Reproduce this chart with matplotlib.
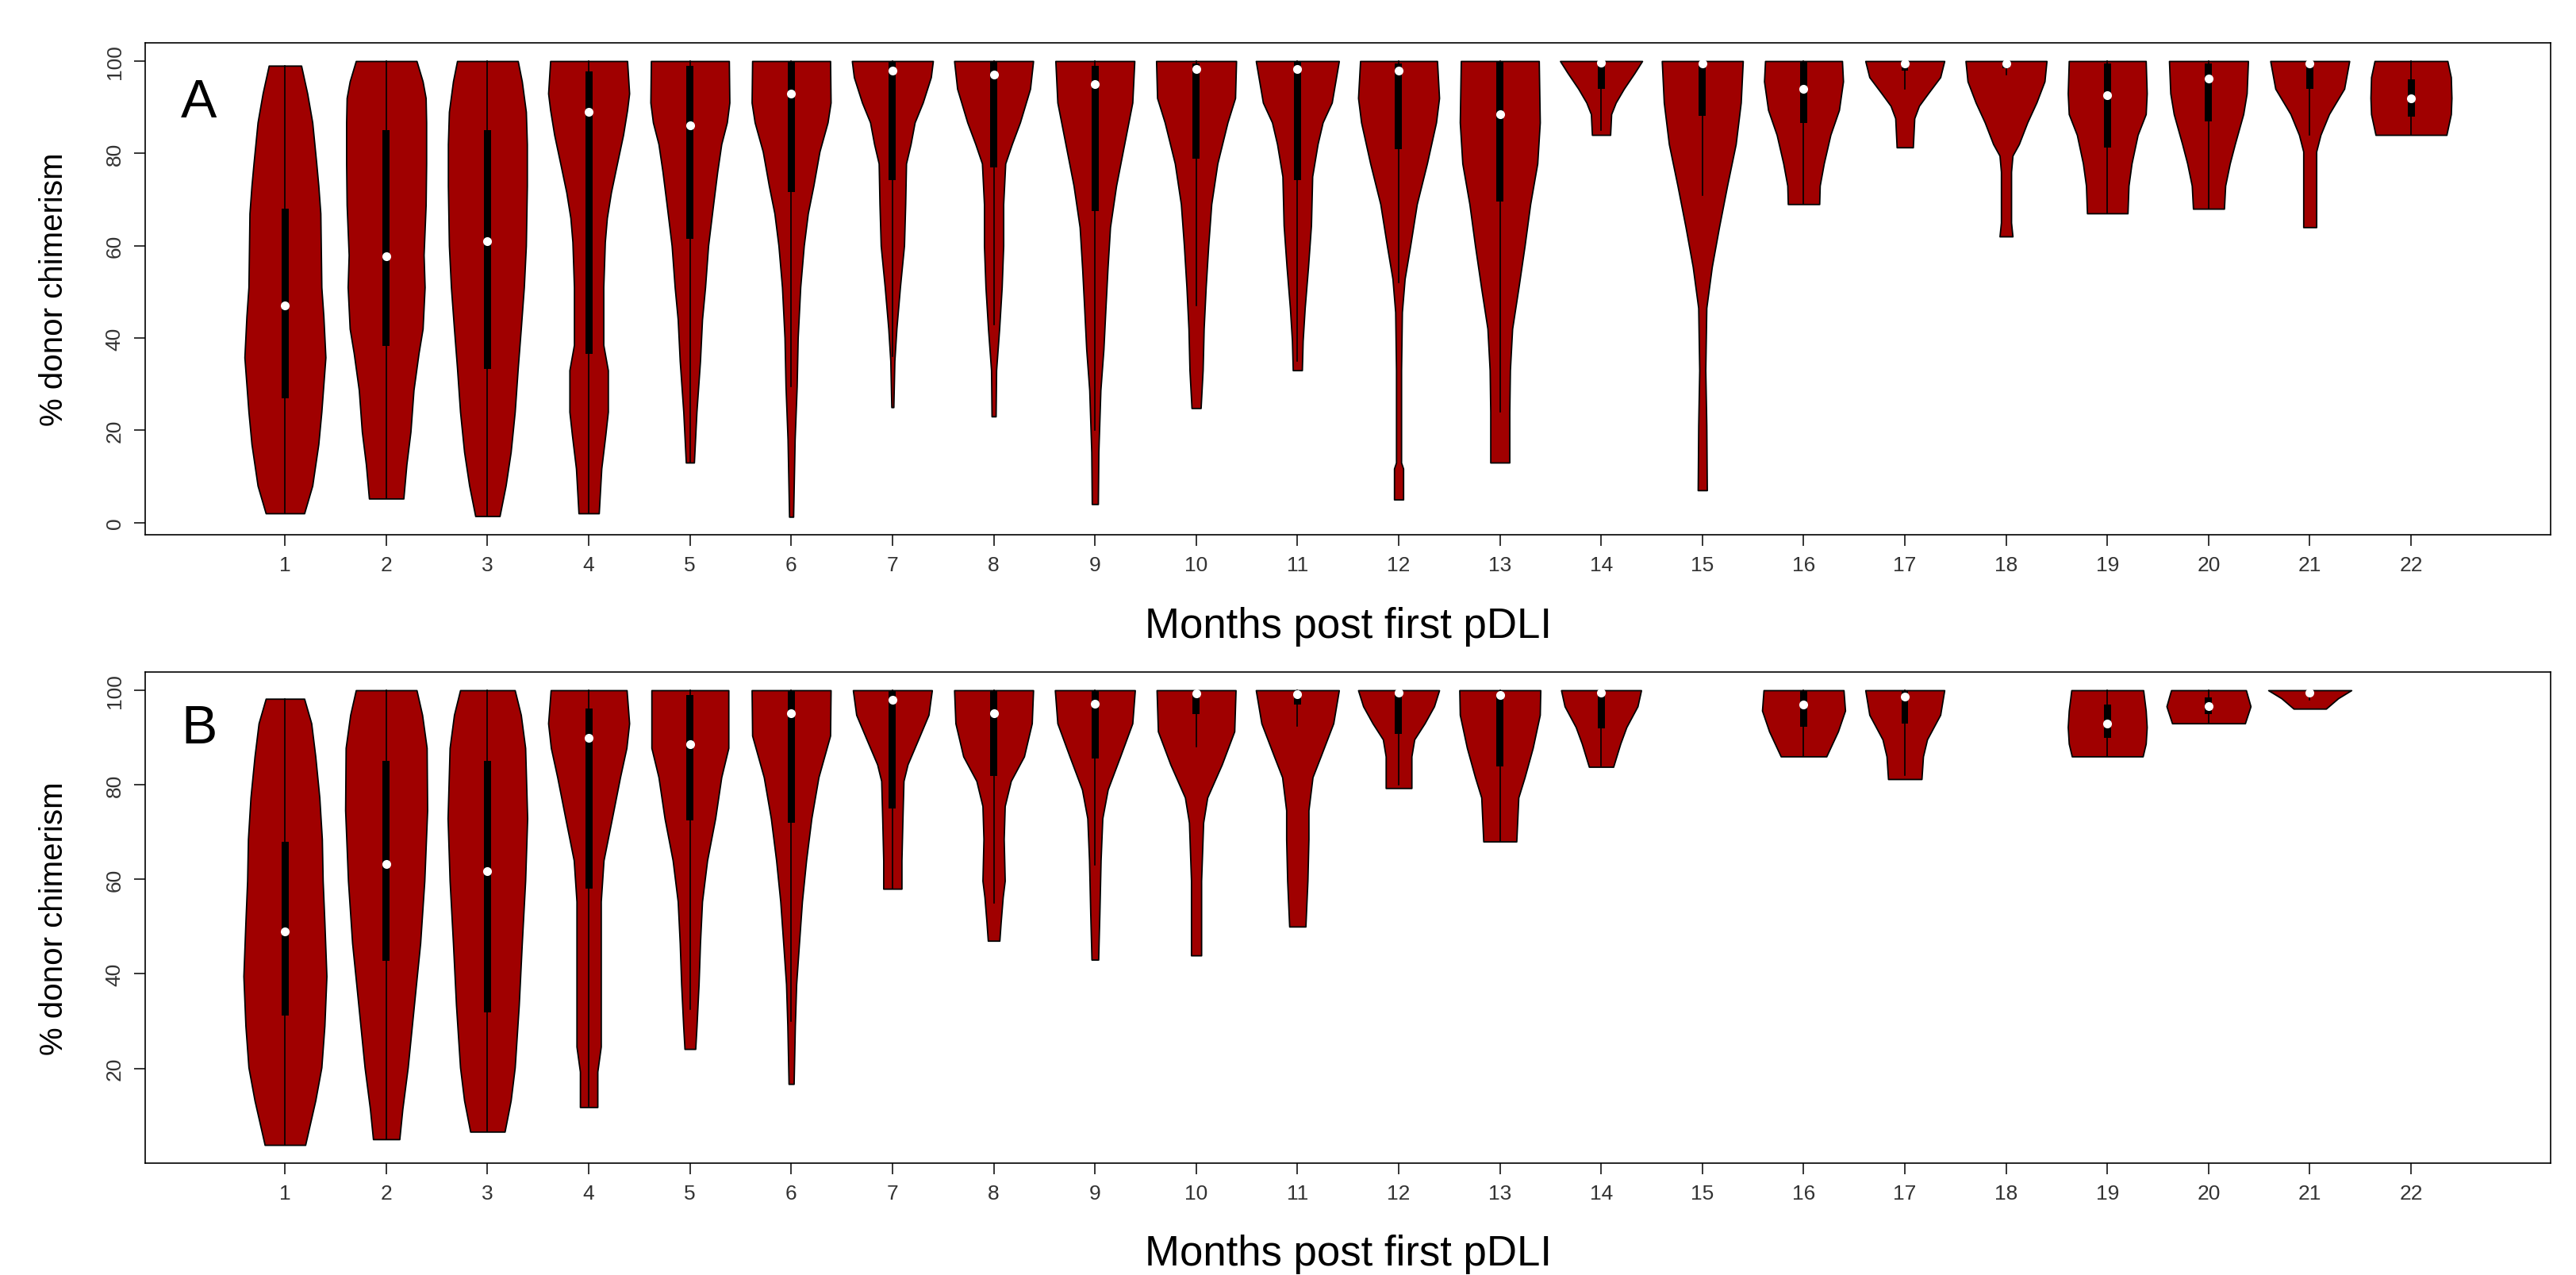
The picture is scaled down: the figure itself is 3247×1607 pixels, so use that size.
import numpy as np
import matplotlib.pyplot as plt
from matplotlib.patches import Rectangle

plt.rcParams['font.family'] = ['Liberation Sans', 'DejaVu Sans']

# ---- panel A: months 1-22 ----
months_A = list(range(1, 23))
# violin outline: y levels (bottom -> top) and half widths
shape_y_A = [
    [2, 8, 17, 24, 35.8, 44.7, 51, 67, 73, 77.8, 86.7, 93, 99],
    [5.2, 12.6, 19.7, 28.7, 36.7, 42, 51, 58, 68.8, 77.8, 86.7, 92, 95.6, 100],
    [1.4, 8, 15.3, 24, 33.5, 42, 51, 60, 73, 82, 89, 95.6, 100],
    [2, 11.7, 19, 24, 33, 38.5, 51, 60.8, 66, 71.5, 77.8, 84, 89.4, 93, 100],
    [13, 24, 35, 44, 51, 60, 69, 76, 82, 86.7, 91, 100],
    [1.25, 18, 29.5, 40, 51, 60, 67, 73, 80.4, 86.7, 91, 100],
    [25, 35, 42, 51, 60, 69, 77.8, 82, 86.7, 91, 96.5, 100],
    [23, 33, 42, 51, 60, 69, 77.8, 82, 86.7, 94, 100],
    [4, 15.3, 28.7, 37.6, 46.5, 55, 64, 73, 82, 91, 100],
    [24.8, 33, 42, 51, 60, 69, 77.8, 86.7, 92, 100],
    [33, 39.4, 46.5, 55.4, 64.4, 75, 82, 86.7, 91, 100],
    [5, 11.7, 13, 24, 33, 45.6, 52.8, 60, 69, 77.8, 86.7, 92, 100],
    [13, 24, 33, 42, 51, 60, 69, 77.8, 86.7, 100],
    [84, 88.5, 91, 94, 97.4, 100],
    [7, 21, 33, 46.5, 55.4, 64, 73, 82, 91, 100],
    [69, 73, 77.8, 84, 89.4, 95.6, 100],
    [81.3, 87.6, 90.3, 93, 96.5, 100],
    [62, 65, 76, 79.5, 82, 86.7, 91, 95.6, 100],
    [67, 73, 77.8, 84, 88.5, 93, 100],
    [68, 73, 77.8, 82, 88.5, 93, 100],
    [64, 73, 80.4, 84, 88.5, 94, 100],
    [84, 88.5, 92, 96.5, 100],
]
shape_w_A = [
    [0.19, 0.27, 0.33, 0.36, 0.40, 0.38, 0.36, 0.35, 0.33, 0.31, 0.27, 0.22, 0.16],
    [0.17, 0.20, 0.24, 0.27, 0.32, 0.36, 0.38, 0.37, 0.39, 0.395, 0.395, 0.39, 0.36, 0.30],
    [0.12, 0.18, 0.23, 0.27, 0.30, 0.33, 0.36, 0.38, 0.39, 0.39, 0.38, 0.34, 0.30],
    [0.10, 0.125, 0.165, 0.19, 0.19, 0.145, 0.145, 0.16, 0.18, 0.22, 0.28, 0.34, 0.38, 0.40, 0.38],
    [0.04, 0.065, 0.10, 0.12, 0.15, 0.18, 0.23, 0.27, 0.31, 0.365, 0.39, 0.385],
    [0.02, 0.035, 0.055, 0.065, 0.09, 0.125, 0.165, 0.22, 0.28, 0.36, 0.39, 0.385],
    [0.01, 0.02, 0.04, 0.075, 0.115, 0.127, 0.135, 0.18, 0.22, 0.30, 0.38, 0.40],
    [0.02, 0.025, 0.055, 0.08, 0.095, 0.095, 0.115, 0.18, 0.26, 0.36, 0.39],
    [0.03, 0.035, 0.055, 0.085, 0.105, 0.125, 0.15, 0.21, 0.29, 0.37, 0.39],
    [0.045, 0.065, 0.075, 0.095, 0.12, 0.15, 0.21, 0.31, 0.385, 0.395],
    [0.045, 0.053, 0.073, 0.106, 0.135, 0.147, 0.20, 0.25, 0.34, 0.41],
    [0.045, 0.045, 0.025, 0.025, 0.025, 0.033, 0.06, 0.115, 0.18, 0.28, 0.37, 0.40, 0.38],
    [0.094, 0.094, 0.10, 0.122, 0.185, 0.245, 0.30, 0.37, 0.395, 0.385],
    [0.09, 0.10, 0.145, 0.225, 0.33, 0.405],
    [0.045, 0.04, 0.03, 0.04, 0.094, 0.165, 0.245, 0.33, 0.38, 0.40],
    [0.155, 0.16, 0.20, 0.265, 0.35, 0.39, 0.38],
    [0.08, 0.094, 0.14, 0.23, 0.35, 0.39],
    [0.064, 0.05, 0.05, 0.064, 0.127, 0.21, 0.30, 0.38, 0.40],
    [0.20, 0.21, 0.24, 0.30, 0.38, 0.39, 0.38],
    [0.153, 0.165, 0.21, 0.26, 0.343, 0.377, 0.39],
    [0.064, 0.064, 0.064, 0.106, 0.19, 0.34, 0.39],
    [0.35, 0.394, 0.40, 0.394, 0.36],
]
median_A = [47, 57.7, 61, 89, 86, 93, 98, 97, 95, 98.3, 98.3, 98, 88.5, 99.6, 99.5, 94, 99.5, 99.5, 92.6, 96.2, 99.5, 92]
q1_A = [27, 38.2, 33.3, 36.5, 61.5, 71.7, 74.2, 77, 67.5, 78.8, 74.2, 80.9, 69.6, 94, 88.2, 86.6, 98, 98.5, 81.2, 87, 94, 88]
q3_A = [68, 85, 85, 97.7, 99, 100, 100, 100, 99, 99.5, 100, 99.5, 100, 99.5, 99, 100, 99.5, 99.8, 99.4, 99.4, 99, 96]
wlo_A = [2, 5.2, 1.4, 2, 13, 29.5, 36, 43, 20, 47, 35, 52, 24, 85, 71, 69, 94, 97, 67, 68, 84, 84]
whi_A = [99, 100, 100, 100, 100, 100, 100, 100, 100, 100, 100, 100, 100, 100, 100, 100, 100, 100, 100, 100, 100, 100]

# ---- panel B: months with data ----
months_B = [1, 2, 3, 4, 5, 6, 7, 8, 9, 10, 11, 12, 13, 14, 16, 17, 19, 20, 21]
shape_y_B = [
    [3.8, 13.2, 20.2, 29, 39.5, 50.9, 59.7, 68.5, 77.3, 86, 93, 98.2],
    [5, 11.4, 20.2, 29, 37.8, 46.5, 59.7, 74.6, 87.8, 94.8, 100],
    [6.6, 13.2, 20.2, 33.4, 46.5, 59.7, 72.9, 87.8, 94.8, 100],
    [11.8, 19.3, 24.6, 42.1, 55.3, 64, 72.9, 81.6, 87.8, 93, 100],
    [24.1, 29, 37.8, 46.5, 55.3, 64, 72.9, 81.6, 87.8, 100],
    [16.7, 29, 37.8, 46.5, 55.3, 64, 72.9, 81.6, 90.4, 100],
    [58, 64, 72.9, 80.8, 84.3, 89.6, 94.8, 100],
    [47, 50.9, 56.2, 59.7, 68.5, 75.5, 80.8, 86, 93, 100],
    [43, 52.7, 64, 72.9, 79, 86, 93, 100],
    [43.9, 59.7, 72, 77.3, 84.3, 91.3, 100],
    [50, 59.7, 68.5, 74.6, 81.6, 86, 93, 100],
    [79.3, 86, 89.6, 93, 96.6, 100],
    [68, 77.3, 81.6, 87.8, 94.8, 100],
    [83.8, 88.7, 92.2, 96.6, 100],
    [86, 91.3, 95.7, 100],
    [81.2, 86, 89.6, 94.8, 100],
    [86, 88.7, 92.2, 95.7, 100],
    [93, 96.6, 100],
    [96.1, 98.3, 100],
]
shape_w_B = [
    [0.20, 0.30, 0.36, 0.39, 0.41, 0.39, 0.373, 0.365, 0.34, 0.30, 0.26, 0.19],
    [0.13, 0.16, 0.213, 0.254, 0.295, 0.336, 0.377, 0.405, 0.40, 0.355, 0.30],
    [0.17, 0.23, 0.27, 0.31, 0.34, 0.373, 0.393, 0.373, 0.33, 0.27],
    [0.086, 0.086, 0.12, 0.12, 0.12, 0.147, 0.23, 0.31, 0.373, 0.40, 0.375],
    [0.053, 0.066, 0.086, 0.10, 0.12, 0.17, 0.25, 0.31, 0.38, 0.38],
    [0.025, 0.037, 0.05, 0.078, 0.107, 0.148, 0.20, 0.27, 0.385, 0.39],
    [0.09, 0.09, 0.10, 0.11, 0.15, 0.255, 0.357, 0.39],
    [0.057, 0.07, 0.09, 0.11, 0.10, 0.11, 0.17, 0.30, 0.377, 0.39],
    [0.033, 0.045, 0.057, 0.074, 0.127, 0.25, 0.37, 0.395],
    [0.05, 0.05, 0.07, 0.11, 0.254, 0.377, 0.39],
    [0.08, 0.10, 0.11, 0.11, 0.15, 0.23, 0.355, 0.41],
    [0.127, 0.127, 0.155, 0.257, 0.35, 0.40],
    [0.163, 0.183, 0.245, 0.325, 0.395, 0.40],
    [0.12, 0.19, 0.25, 0.36, 0.395],
    [0.225, 0.34, 0.41, 0.395],
    [0.165, 0.18, 0.22, 0.35, 0.39],
    [0.35, 0.38, 0.39, 0.38, 0.355],
    [0.36, 0.415, 0.37],
    [0.16, 0.28, 0.41],
]
median_B = [49, 63.2, 61.8, 90, 88.5, 95.2, 98, 95.2, 97.1, 99.3, 99.2, 99.5, 99, 99.5, 97, 98.6, 92.9, 96.6, 99.5]
q1_B = [31.2, 42.7, 31.8, 58, 72.4, 72, 75, 81.9, 85.5, 95, 97, 90.8, 83.8, 92, 92.3, 93, 90, 95, 99]
q3_B = [68, 85, 85, 96.1, 99, 100, 100, 100, 100, 99.5, 99.5, 99, 99, 99, 100, 100, 97, 98.5, 99.8]
wlo_B = [3.8, 5, 6.6, 12, 32.5, 30, 58, 55, 63, 88, 92.5, 80, 68, 84, 86, 82, 86, 93, 98]
whi_B = [98.2, 100, 100, 100, 100, 100, 100, 100, 100, 100, 100, 100, 100, 100, 100, 100, 100, 100, 100]

xticks = list(range(1, 23))
yticks_A = [0, 20, 40, 60, 80, 100]
yticks_B = [20, 40, 60, 80, 100]

VCOL = '#a00000'


def violins(ax, months, sy, sw, med, q1, q3, wlo, whi):
    for i, m in enumerate(months):
        ys = np.array(sy[i])
        ws = np.array(sw[i])
        ax.fill_betweenx(ys, m - ws, m + ws, facecolor=VCOL, edgecolor='black',
                         linewidth=1.3, zorder=2)
        ax.plot([m, m], [wlo[i], whi[i]], color='black', lw=1.2, zorder=3)
        ax.add_patch(Rectangle((m - 0.035, q1[i]), 0.07, q3[i] - q1[i],
                               facecolor='black', edgecolor='none', zorder=4))
        ax.plot(m, med[i], 'o', color='white', ms=8, mec='none', zorder=5)


def style(ax, yticks, ylim, tag, tag_y):
    ax.set_xlim(-0.38, 23.38)
    ax.set_ylim(*ylim)
    ax.set_xticks(xticks)
    ax.set_xticklabels([str(t) for t in xticks])
    ax.set_yticks(yticks)
    ax.set_yticklabels([str(t) for t in yticks], rotation=90, va='center')
    ax.tick_params(direction='out', length=10, width=1.1, labelsize=19,
                   labelcolor='#333333', pad=9)
    for s in ax.spines.values():
        s.set_linewidth(1.2)
    ax.text(0.5, -0.185, 'Months post first pDLI', transform=ax.transAxes,
            ha='center', va='center', fontsize=38)
    ax.text(-0.038, 0.5, '% donor chimerism', transform=ax.transAxes,
            rotation=90, ha='center', va='center', fontsize=29)
    ax.text(0.15, tag_y, tag, ha='center', va='baseline', fontsize=49)


fig = plt.figure(figsize=(32.47, 16.08), dpi=100)
axA = fig.add_axes([0.0564, 0.5802, 0.9338, 0.3856])
axB = fig.add_axes([0.0564, 0.0877, 0.9338, 0.3849])

violins(axA, months_A, shape_y_A, shape_w_A, median_A, q1_A, q3_A, wlo_A, whi_A)
style(axA, yticks_A, (-2.65, 103.95), 'A', 88)

violins(axB, months_B, shape_y_B, shape_w_B, median_B, q1_B, q3_B, wlo_B, whi_B)
style(axB, yticks_B, (-0.05, 103.85), 'B', 88.9)

fig.savefig('out.png', dpi=100)
